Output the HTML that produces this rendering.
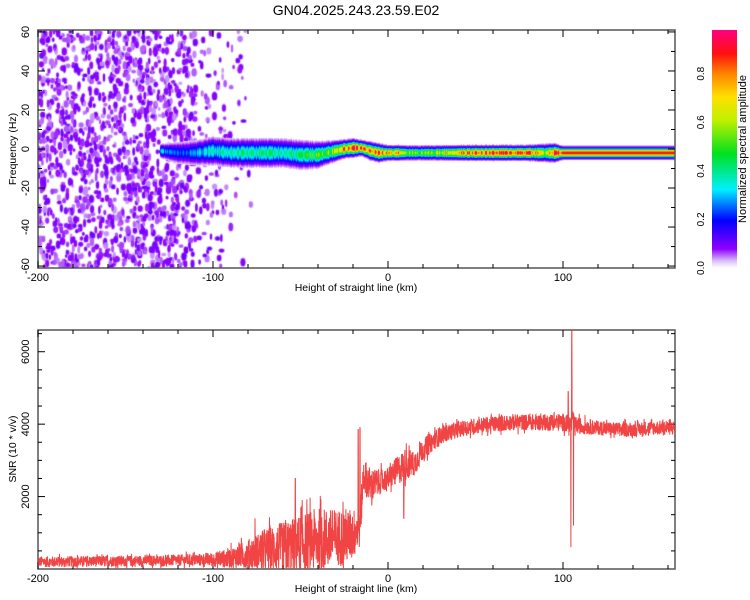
<!DOCTYPE html>
<html><head><meta charset="utf-8">
<style>
body{margin:0;background:#fff;width:750px;height:600px;overflow:hidden;position:relative;font-family:"Liberation Sans",sans-serif;}
canvas{position:absolute;}
svg{position:absolute;left:0;top:0;}
</style></head>
<body>
<canvas id="spec" width="637" height="238" style="left:38px;top:30px"></canvas>
<svg id="svg" width="750" height="600">
<defs><linearGradient id="cb" x1="0" y1="1" x2="0" y2="0">
<stop offset="0" stop-color="#ffffff"/><stop offset="0.03" stop-color="#d8c0f8"/><stop offset="0.08" stop-color="#9000ff"/>
<stop offset="0.2" stop-color="#0000ff"/><stop offset="0.33" stop-color="#00f0ff"/><stop offset="0.48" stop-color="#00e020"/>
<stop offset="0.62" stop-color="#c0f000"/><stop offset="0.72" stop-color="#ffe000"/><stop offset="0.82" stop-color="#ff8000"/>
<stop offset="0.9" stop-color="#ff1010"/><stop offset="1" stop-color="#ff0080"/></linearGradient></defs>
<text x="356" y="15" font-size="14" text-anchor="middle">GN04.2025.243.23.59.E02</text>
<rect x="712" y="30" width="25" height="238" fill="url(#cb)"/>
<g id="cbl" font-size="10" fill="#000"></g>
<text transform="translate(746,149) rotate(-90)" font-size="11" text-anchor="middle">Normalized spectral amplitude</text>
<g id="ax"></g>
<path id="snr" fill="none" stroke="#f03030" stroke-width="1" stroke-opacity="0.9"/>
</svg>
<script>
// ---- data ----
const xTicks=[-200,-100,0,100];
const freqTicks=[-60,-40,-20,0,20,40,60];
const snrTicks=[2000,4000,6000];
const cbTicks=["0.0","0.2","0.4","0.6","0.8"];
const snrX=[-200,-190,-180,-170,-160,-150,-140,-130,-120,-110,-100,-90,-80,-70,-60,-50,-40,-30,-25,-20,-16,-14,-10,-5,0,5,10,15,20,30,40,50,60,70,80,90,100,110,120,130,140,150,164];
const snrBase=[200,200,210,210,220,220,230,230,240,250,260,300,420,520,600,700,800,850,900,950,1200,2600,2300,2400,2500,2700,2900,2900,3300,3700,3850,3950,4000,4050,4050,4050,4050,3950,3900,3850,3850,3900,3900];
const snrNoise=[150,150,150,150,150,150,150,150,160,170,200,280,400,600,700,800,900,800,800,700,600,500,500,350,300,400,450,350,300,250,220,220,220,230,230,230,250,230,200,200,200,200,200];
const snrSpikes=[[-76,1400],[-53,2500],[-17,3850],[-16,3900],[9,1400],[103,4900],[105,6600],[104.5,600],[106,1200]];
const bandX=[-130,-120,-110,-100,-90,-80,-70,-60,-50,-40,-30,-25,-20,-15,-10,-5,0,5,10,20,30,40,50,60,70,80,90,95,100,110,120,140,164];
const bandF=[-1,-2,-2,-1,-2,-2,-2,-2,-3,-3,-1,0,0.5,0.5,-1,-2,-2,-2,-2,-2,-2,-2,-2,-2,-2,-2,-2,-2,-2,-2,-2,-2,-2];
const bandW=[2.5,4,4.5,5,5,5,5,5,5,4.5,3.5,3,3,2.5,3,3,2.5,2.5,2.5,2.5,2.5,2.5,2.5,2.5,2.5,2.5,3,3,2.2,2.2,2.2,2.2,2.2];
const bandA=[0.3,0.25,0.28,0.35,0.4,0.4,0.42,0.4,0.45,0.5,0.6,0.8,0.92,0.85,0.8,0.85,0.75,0.85,0.6,0.55,0.65,0.75,0.85,0.88,0.88,0.92,0.6,0.9,0.93,0.93,0.93,0.93,0.93];
// ---- scales ----
const X0=38,X1=675,XMIN=-200,XMAX=164;
const sx=v=>X0+(v-XMIN)/(XMAX-XMIN)*(X1-X0);
const T0=30,T1=268,FMIN=-61,FMAX=61;
const sf=v=>T1-(v-FMIN)/(FMAX-FMIN)*(T1-T0);
const B0=330,B1=569,SMIN=0,SMAX=6600;
const ss=v=>B1-(v-SMIN)/(SMAX-SMIN)*(B1-B0);
let seed=12345;const rnd=()=>{seed=(seed*1103515245+12345)%2147483648;return seed/2147483648;};
const interp=(xs,ys,x)=>{if(x<=xs[0])return ys[0];for(let i=1;i<xs.length;i++)if(x<=xs[i]){const t=(x-xs[i-1])/(xs[i]-xs[i-1]);return ys[i-1]+t*(ys[i]-ys[i-1]);}return ys[ys.length-1];};
const NS="http://www.w3.org/2000/svg";
const ax=document.getElementById('ax');
function el(t,a,p){const e=document.createElementNS(NS,t);for(const k in a)e.setAttribute(k,a[k]);(p||ax).appendChild(e);return e;}
function frame(top,bot,name){
 const r=el('rect',{x:X0,y:top,width:X1-X0,height:bot-top,fill:'none',stroke:'#555','stroke-width':1.5});
 
 
 for(let v=-200;v<=XMAX;v+=20){const x=sx(v),L=xTicks.includes(v)?7:4;
  el('line',{x1:x,y1:bot,x2:x,y2:bot-L,stroke:'#000'});el('line',{x1:x,y1:top,x2:x,y2:top+L,stroke:'#000'});}
 xTicks.forEach(v=>{const t=el('text',{x:sx(v),y:bot+13,'font-size':11,'text-anchor':'middle'});t.textContent=v;
  
  });
 const xl=el('text',{x:356,y:bot+23,'font-size':10.5,'text-anchor':'middle'});xl.textContent='Height of straight line (km)';
 
 
}
frame(T0,T1,'spectrum');frame(B0,B1,'snr');
for(let f=-60;f<=60;f+=10){const y=sf(f),L=f%20==0?7:4;el('line',{x1:X0,y1:y,x2:X0+L,y2:y,stroke:'#000'});el('line',{x1:X1,y1:y,x2:X1-L,y2:y,stroke:'#000'});}
freqTicks.forEach(v=>{const t=el('text',{transform:`translate(29,${sf(v)}) rotate(-90)`,'font-size':11,'text-anchor':'middle'});t.textContent=v;
 
 });
for(let s=500;s<SMAX;s+=500){const y=ss(s),L=s%2000==0?7:4;el('line',{x1:X0,y1:y,x2:X0+L,y2:y,stroke:'#000'});el('line',{x1:X1,y1:y,x2:X1-L,y2:y,stroke:'#000'});}
snrTicks.forEach(v=>{const t=el('text',{transform:`translate(29,${ss(v)}) rotate(-90)`,'font-size':11,'text-anchor':'middle'});t.textContent=v;
 
 });
let yl=el('text',{transform:`translate(16,149) rotate(-90)`,'font-size':10.5,'text-anchor':'middle'});yl.textContent='Frequency (Hz)';


yl=el('text',{transform:`translate(16,449) rotate(-90)`,'font-size':10.5,'text-anchor':'middle'});yl.textContent='SNR (10 * v/v)';


const cbl=document.getElementById('cbl');
cbTicks.forEach((v,i)=>{const y=268-i*0.2/0.98*238;const t=el('text',{transform:`translate(704,${y}) rotate(-90)`,'text-anchor':'middle'},cbl);t.textContent=v;
 
 });
// ---- SNR line ----
let d='';const N=3200;
for(let i=0;i<=N;i++){const x=XMIN+(XMAX-XMIN)*i/N;let v=interp(snrX,snrBase,x)+interp(snrX,snrNoise,x)*(rnd()*2-1)*(rnd()<0.1?1.5:1.0);
 snrSpikes.forEach(s=>{if(Math.abs(x-s[0])<0.1)v=s[1];});
 v=Math.max(20,v);d+=(i?'L':'M')+sx(x).toFixed(1)+','+ss(v).toFixed(1);}
document.getElementById('snr').setAttribute('d',d);
// ---- spectrogram ----
const stops=[[0,[255,255,255]],[0.03,[216,192,248]],[0.08,[144,0,255]],[0.2,[0,0,255]],[0.33,[0,240,255]],[0.48,[0,224,32]],[0.62,[192,240,0]],[0.72,[255,224,0]],[0.82,[255,128,0]],[0.9,[255,16,16]],[1,[255,0,128]]];
function cmap(a){a=Math.max(0,Math.min(1,a));for(let i=1;i<stops.length;i++)if(a<=stops[i][0]){const t=(a-stops[i-1][0])/(stops[i][0]-stops[i-1][0]);const c0=stops[i-1][1],c1=stops[i][1];return c0.map((c,k)=>Math.round(c+t*(c1[k]-c)));}return stops[stops.length-1][1];}
const cv=document.getElementById('spec'),ctx=cv.getContext('2d');
const W=637,H=238;
// noise blobs (texture): pale wash first, then darker blobs
for(let k=0;k<6000;k++){const x=XMIN+rnd()*125;const dens=x<-110?1:Math.max(0,(-75-x)/45)*0.5;if(rnd()>dens)continue;
 const f=FMIN+rnd()*(FMAX-FMIN);const a=0.01+rnd()*0.025;const c=cmap(a);ctx.fillStyle=`rgba(${c[0]},${c[1]},${c[2]},0.8)`;
 ctx.beginPath();ctx.ellipse(sx(x)-X0,sf(f)-T0,1.5+rnd()*2,2+rnd()*3,0,0,7);ctx.fill();}
for(let k=0;k<4000;k++){const x=XMIN+rnd()*125;const dens=x<-110?1:Math.max(0,(-75-x)/45)*0.5;if(rnd()>dens)continue;
 const f=FMIN+rnd()*(FMAX-FMIN);const a=0.04+rnd()*0.07;const c=cmap(a);ctx.fillStyle=`rgba(${c[0]},${c[1]},${c[2]},0.85)`;
 ctx.beginPath();ctx.ellipse(sx(x)-X0,sf(f)-T0,1+rnd()*1.5,1.5+rnd()*2.5,0,0,7);ctx.fill();}
// band
for(let px=0;px<W;px++){const x=XMIN+(px+0.5)/W*(XMAX-XMIN);if(x<bandX[0])continue;
 const fc=interp(bandX,bandF,x),hw=interp(bandX,bandW,x),pk=interp(bandX,bandA,x)*(x<100?(0.8+0.4*rnd()):1);
 for(let py=0;py<H;py++){const f=FMAX-(py+0.5)/H*(FMAX-FMIN);const dd=Math.abs(f-fc)/hw;
  let a=pk*Math.exp(-dd*dd*1.2);const halo=0.05*Math.exp(-dd*dd*0.35);a=Math.max(a,halo);if(a<0.025)continue;
  const c=cmap(a);ctx.fillStyle=`rgb(${c[0]},${c[1]},${c[2]})`;ctx.fillRect(px,py,1,1);}}
</script>
</body></html>
